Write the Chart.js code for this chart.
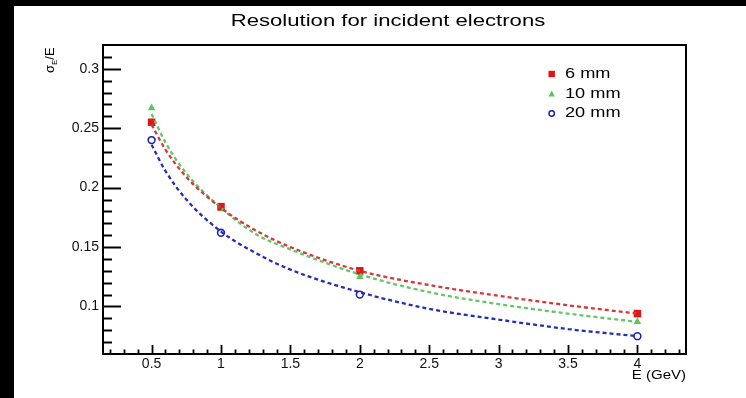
<!DOCTYPE html>
<html>
<head>
<meta charset="utf-8">
<script src="https://cdn.jsdelivr.net/npm/chart.js@4"></script>
<style>
  html, body { margin: 0; padding: 0; background: #000; width: 746px; height: 398px; overflow: hidden; }
  #wrap { position: absolute; left: 14px; top: 6px; width: 732px; height: 392px; background: #fff; }
  canvas { display: block; }
</style>
</head>
<body>
<div id="wrap"><canvas id="c" width="732" height="392"></canvas></div>
<script>
// ---- data ----
const energies = [0.5, 1, 2, 4];                    // E (GeV)
const res6mm  = [0.255, 0.184, 0.130, 0.094];
const res10mm = [0.267, 0.182, 0.125, 0.087];
const res20mm = [0.240, 0.162, 0.110, 0.075];

// dashed fit curves at these energies
const fitE    = [0.5, 0.6, 0.75, 1, 1.25, 1.5, 2, 2.5, 3, 3.5, 4];
const fit6mm  = [0.253, 0.232, 0.209, 0.183, 0.164, 0.150, 0.130, 0.118, 0.109, 0.101, 0.094];
const fit10mm = [0.262, 0.238, 0.212, 0.183, 0.161, 0.148, 0.127, 0.112, 0.102, 0.094, 0.087];
const fit20mm = [0.236, 0.214, 0.190, 0.163, 0.145, 0.131, 0.112, 0.098, 0.089, 0.081, 0.075];

const seriesNames = ['6 mm', '10 mm', '20 mm'];
const xTicks = [0.5, 1, 1.5, 2, 2.5, 3, 3.5, 4];
const xTickLabels = ['0.5', '1', '1.5', '2', '2.5', '3', '3.5', '4'];
const yTicks = [0.1, 0.15, 0.2, 0.25, 0.3];
const yTickLabels = ['0.1', '0.15', '0.2', '0.25', '0.3'];
const titleText = 'Resolution for incident electrons';
const xTitle = 'E (GeV)';

// ---- styles ----
const RED = '#e31414', RED_L = '#d23a3a';
const GREEN = '#5cc65c', GREEN_L = '#66c466';
const BLUE = '#1c22b4', BLUE_L = '#2530b0';
const FONT = '"Liberation Sans", Arial, Helvetica, sans-serif';

const pts = (xs, ys) => xs.map((x, i) => ({ x: x, y: ys[i] }));

function curve(data, color) {
  return { type: 'line', data: data, borderColor: color, borderWidth: 2.3, borderDash: [4, 3],
           pointRadius: 0, fill: false, showLine: true, cubicInterpolationMode: 'monotone' };
}

function sText(ctx, s, x, y, size, align, sx, baseline) {
  ctx.save();
  ctx.font = size + 'px ' + FONT;
  ctx.fillStyle = '#000';
  ctx.textBaseline = baseline || 'alphabetic';
  ctx.textAlign = 'left';
  const w = ctx.measureText(s).width * sx;
  const x0 = align === 'center' ? x - w / 2 : (align === 'right' ? x - w : x);
  ctx.translate(x0, y);
  ctx.scale(sx, 1);
  ctx.fillText(s, 0, 0);
  ctx.restore();
}

function marker(ctx, kind, x, y, r) {
  ctx.save();
  if (kind === 'square') {
    ctx.fillStyle = RED;
    ctx.fillRect(x - r, y - r, 2 * r, 2 * r);
  } else if (kind === 'triangle') {
    ctx.fillStyle = GREEN;
    ctx.beginPath();
    ctx.moveTo(x, y - r * 1.1);
    ctx.lineTo(x + r, y + r * 0.75);
    ctx.lineTo(x - r, y + r * 0.75);
    ctx.closePath();
    ctx.fill();
  } else {
    ctx.strokeStyle = BLUE;
    ctx.lineWidth = 1.5;
    ctx.beginPath();
    ctx.arc(x, y, r * 0.85, 0, Math.PI * 2);
    ctx.stroke();
  }
  ctx.restore();
}

const rootStyle = {
  id: 'rootStyle',
  afterDraw(chart) {
    const ctx = chart.ctx;
    const a = chart.chartArea;
    const xs = chart.scales.x, ys = chart.scales.y;
    ctx.save();
    // frame
    ctx.strokeStyle = '#000';
    ctx.lineWidth = 2;
    ctx.strokeRect(a.left, a.top, a.right - a.left, a.bottom - a.top);
    // inward ticks, y axis
    ctx.lineWidth = 1.8;
    ctx.beginPath();
    for (let k = 7; k <= 31; k++) {
      const v = k / 100;
      const py = Math.round(ys.getPixelForValue(v)) + 0.5;
      const major = (k % 5 === 0);
      ctx.moveTo(a.left, py);
      ctx.lineTo(a.left + (major ? 18 : 9), py);
    }
    // inward ticks, x axis
    for (let k = 2; k <= 43; k++) {
      const v = k / 10;
      const px = Math.round(xs.getPixelForValue(v)) + 0.5;
      const major = (k % 5 === 0);
      ctx.moveTo(px, a.bottom);
      ctx.lineTo(px, a.bottom - (major ? 9 : 4.5));
    }
    ctx.stroke();
    ctx.restore();

    // title
    sText(ctx, titleText, 374, 19.5, 17, 'center', 1.3);
    // x title
    sText(ctx, xTitle, 672, 369.5, 12.5, 'right', 1.2, 'middle');
    // y title: sigma_E / E (rotated)
    ctx.save();
    ctx.translate(40, 67);
    ctx.rotate(-Math.PI / 2);
    ctx.fillStyle = '#000';
    ctx.textBaseline = 'alphabetic';
    ctx.font = '13px ' + FONT;
    ctx.fillText('\u03C3', 0, 0);
    let w = ctx.measureText('\u03C3').width;
    ctx.font = '8px ' + FONT;
    ctx.fillText('E', w, 3);
    w += ctx.measureText('E').width;
    ctx.font = '13px ' + FONT;
    ctx.fillText('/E', w, 0);
    ctx.restore();

    // legend
    const kinds = ['square', 'triangle', 'circle'];
    const rowsY = [68, 88, 107.5];
    for (let i = 0; i < 3; i++) {
      marker(ctx, kinds[i], 537.7, rowsY[i], 3.2);
      sText(ctx, seriesNames[i], 551, rowsY[i], 14, 'left', 1.3, 'middle');
    }
  }
};

new Chart(document.getElementById('c'), {
  type: 'scatter',
  data: {
    datasets: [
      curve(pts(fitE, fit6mm), RED_L),
      curve(pts(fitE, fit10mm), GREEN_L),
      curve(pts(fitE, fit20mm), BLUE_L),
      { label: seriesNames[0], data: pts(energies, res6mm), pointStyle: 'rect', pointRadius: 5.3,
        backgroundColor: RED, borderColor: RED, borderWidth: 0, showLine: false },
      { label: seriesNames[1], data: pts(energies, res10mm), pointStyle: 'triangle', pointRadius: 4.4,
        backgroundColor: GREEN, borderColor: GREEN, borderWidth: 0, showLine: false },
      { label: seriesNames[2], data: pts(energies, res20mm), pointStyle: 'circle', pointRadius: 3.4,
        backgroundColor: 'rgba(0,0,0,0)', borderColor: BLUE, borderWidth: 1.6, showLine: false }
    ]
  },
  options: {
    responsive: false,
    animation: false,
    layout: { padding: { top: 39, right: 60, left: 0, bottom: 0 } },
    plugins: { legend: { display: false }, tooltip: { enabled: false }, title: { display: false } },
    scales: {
      x: {
        type: 'linear', min: 0.15, max: 4.35,
        grid: { display: false, drawTicks: false },
        border: { display: false },
        ticks: {
          autoSkip: false, maxRotation: 0, padding: 2, color: '#111',
          font: { family: FONT, size: 14 },
          callback: (v, i) => xTickLabels[i]
        },
        afterBuildTicks: s => { s.ticks = xTicks.map(v => ({ value: v })); },
        afterFit: s => { s.height = 44; }
      },
      y: {
        type: 'linear', min: 0.06, max: 0.32,
        grid: { display: false, drawTicks: false },
        border: { display: false },
        ticks: {
          autoSkip: false, padding: 4, color: '#111',
          font: { family: FONT, size: 14 },
          callback: (v, i) => yTickLabels[i]
        },
        afterBuildTicks: s => { s.ticks = yTicks.map(v => ({ value: v })); },
        afterFit: s => { s.width = 89; }
      }
    }
  },
  plugins: [rootStyle]
});
</script>
</body>
</html>
